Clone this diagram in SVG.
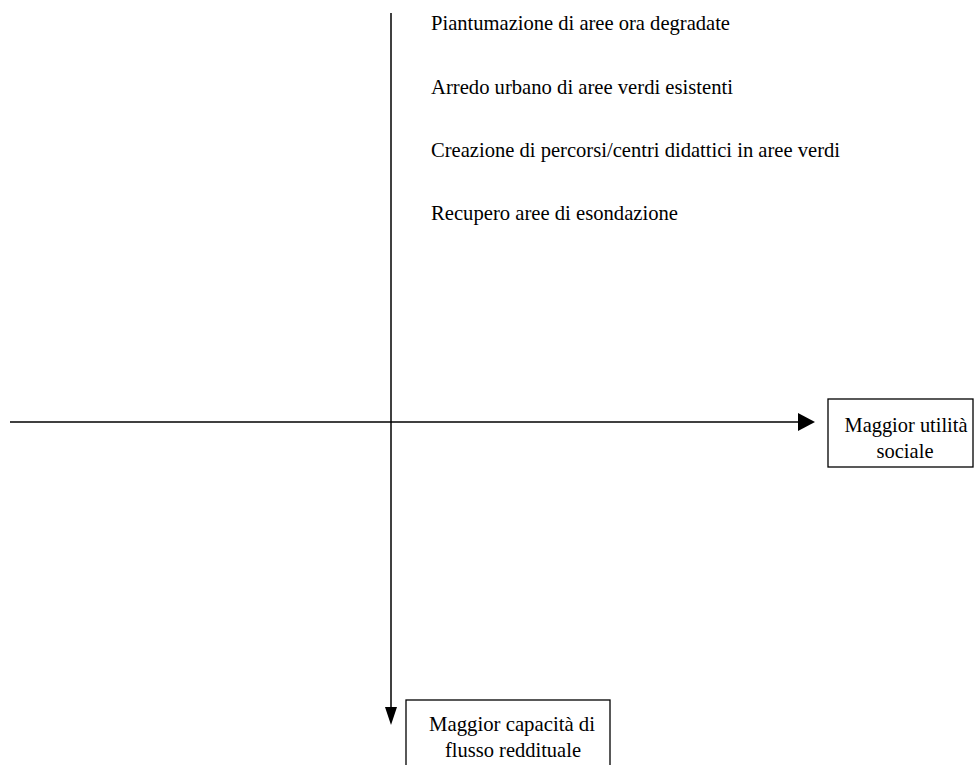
<svg xmlns="http://www.w3.org/2000/svg" width="976" height="765" viewBox="0 0 976 765">
<style>
text{font-family:"Liberation Serif","Times New Roman","DejaVu Serif",serif;font-size:22px;fill:#000}
.box{fill:#fff;stroke:#000;stroke-width:1.3}
.ax{stroke:#000;stroke-width:1.5;fill:none}
.c{text-anchor:middle}
</style>
<rect width="976" height="765" fill="#fff"/>
<g id="connectors">
<line class="ax" x1="10" y1="422" x2="798" y2="422"/>
<path d="M798,413 L815,422 L798,431 Z" fill="#000"/>
<line class="ax" x1="391" y1="13" x2="391" y2="707"/>
<path d="M385,707 L391,725 L397,707 Z" fill="#000"/>
</g>
<g id="items">
<text x="431" y="30" textLength="299" lengthAdjust="spacingAndGlyphs">Piantumazione di aree ora degradate</text>
<text x="431" y="94" textLength="302" lengthAdjust="spacingAndGlyphs">Arredo urbano di aree verdi esistenti</text>
<text x="431" y="157" textLength="409" lengthAdjust="spacingAndGlyphs">Creazione di percorsi/centri didattici in aree verdi</text>
<text x="431" y="220" textLength="247" lengthAdjust="spacingAndGlyphs">Recupero aree di esondazione</text>
</g>
<g id="node-utilita">
<rect class="box" x="828" y="399" width="145" height="68"/>
<text class="c" x="906" y="432" textLength="123" lengthAdjust="spacingAndGlyphs">Maggior utilità</text>
<text class="c" x="905" y="458" textLength="57" lengthAdjust="spacingAndGlyphs">sociale</text>
</g>
<g id="node-capacita">
<rect class="box" x="406" y="700" width="204" height="80"/>
<text class="c" x="512" y="731" textLength="166" lengthAdjust="spacingAndGlyphs">Maggior capacità di</text>
<text class="c" x="513" y="757" textLength="136" lengthAdjust="spacingAndGlyphs">flusso reddituale</text>
</g>
</svg>
